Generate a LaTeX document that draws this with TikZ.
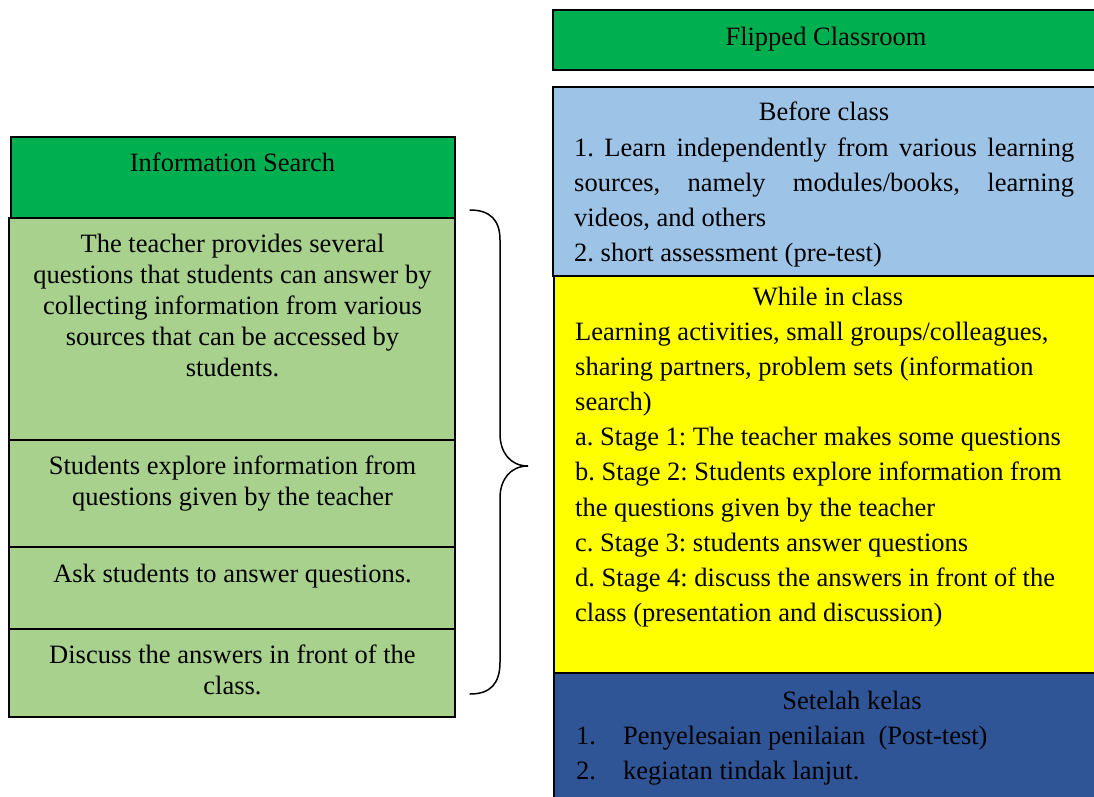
\documentclass[tikz,border=0pt]{standalone}
\usepackage{fontspec}
\setmainfont{Liberation Serif}
\frenchspacing
\hyphenpenalty=10000
\exhyphenpenalty=10000
% use the font's own interword space (no stretch) inside aligned nodes
\newcommand\naturalspaces{\spaceskip=\fontdimen2\font\xspaceskip=\fontdimen2\font\relax}
% a full-width justified line
\newcommand\fullline[1]{\makebox[500pt][s]{\spaceskip=\fontdimen2\font plus 1fil\relax #1}}
\definecolor{hdgreen}{HTML}{00B050}
\definecolor{litegreen}{HTML}{A9D18E}
\definecolor{skyblue}{HTML}{9DC3E6}
\definecolor{brightyellow}{HTML}{FFFF00}
\definecolor{navyblue}{HTML}{2F5597}
\tikzset{
  panel/.style={draw=black, line width=1.8pt},
  lefttext/.style={anchor=base, inner sep=0pt, text width=440pt, align=center,
    font=\fontsize{26.5}{31}\selectfont},
  righttitle/.style={anchor=base, inner sep=0pt, align=center,
    font=\fontsize{26.5}{35.2}\selectfont},
  rightbody/.style={anchor=base west, inner sep=0pt, text width=515pt, align=left,
    font=\fontsize{26.5}{35.2}\selectfont},
  bracket/.style={draw=black, line width=1.5pt, line cap=round}
}
\begin{document}
\begin{tikzpicture}[x=1pt,y=-1pt]
\useasboundingbox (0,0) rectangle (1094,796);
\clip (0,0) rectangle (1094,796);

% ---- left column: Information Search ----
\filldraw[panel, fill=hdgreen] (11,137) rectangle (455,218);
\filldraw[panel, fill=litegreen] (9,218) rectangle (455,440);
\filldraw[panel, fill=litegreen] (9,440) rectangle (455,547);
\filldraw[panel, fill=litegreen] (9,547) rectangle (455,629);
\filldraw[panel, fill=litegreen] (9,629) rectangle (455,717);

\node[lefttext] (ishead) at (232.5,171) {\naturalspaces Information Search};
\node[lefttext] (step1) at (232.5,252) {\naturalspaces The teacher provides several\\
  questions that students can answer by\\
  collecting information from various\\
  sources that can be accessed by\\
  students.};
\node[lefttext] (step2) at (232.5,474) {\naturalspaces Students explore information from\\
  questions given by the teacher};
\node[lefttext] (step3) at (232.5,582) {\naturalspaces Ask students to answer questions.};
\node[lefttext] (step4) at (232.5,663) {\naturalspaces Discuss the answers in front of the\\
  class.};

% ---- curly brace grouping the four steps ----
\coordinate (btop) at (470,210);
\coordinate (btip) at (528,466);
\coordinate (bbot) at (470,694);
\draw[bracket] (btop) .. controls (490,210) and (500,220) .. (500,240)
  -- (500,434) .. controls (500,452) and (510,466) .. (btip)
  .. controls (510,466) and (500,480) .. (500,498)
  -- (500,662) .. controls (500,684) and (490,694) .. (bbot);

% ---- right column: Flipped Classroom ----
\filldraw[panel, fill=hdgreen] (553,10) rectangle (1100,70);
\filldraw[panel, fill=skyblue] (553,87) rectangle (1100,276);
\filldraw[panel, fill=brightyellow] (554,276) rectangle (1100,673);
\filldraw[panel, fill=navyblue] (554,673) rectangle (1100,800);

\node[righttitle] (fchead) at (826,45) {Flipped Classroom};

\node[righttitle] (beforet) at (824,120) {Before class};
\node[rightbody] (beforeb) at (574,156) {\naturalspaces
  \fullline{1. Learn independently from various learning}\\
  \fullline{sources, namely modules/books, learning}\\
  videos, and others\\
  2. short assessment (pre-test)};

\node[righttitle] (whilet) at (828,305) {While in class};
\node[rightbody] (whileb) at (575,340) {\naturalspaces
  Learning activities, small groups/colleagues,\\
  sharing partners, problem sets (information\\
  search)\\
  a. Stage 1: The teacher makes some questions\\
  b. Stage 2: Students explore information from\\
  the questions given by the teacher\\
  c. Stage 3: students answer questions\\
  d. Stage 4: discuss the answers in front of the\\
  class (presentation and discussion)};

\node[righttitle] (aftert) at (852,709) {Setelah kelas};
\node[rightbody] (afterb) at (576,744) {\naturalspaces
  \makebox[47pt][l]{1.}Penyelesaian penilaian\ \ (Post-test)\\
  \makebox[47pt][l]{2.}kegiatan tindak lanjut.};
\end{tikzpicture}
\end{document}
